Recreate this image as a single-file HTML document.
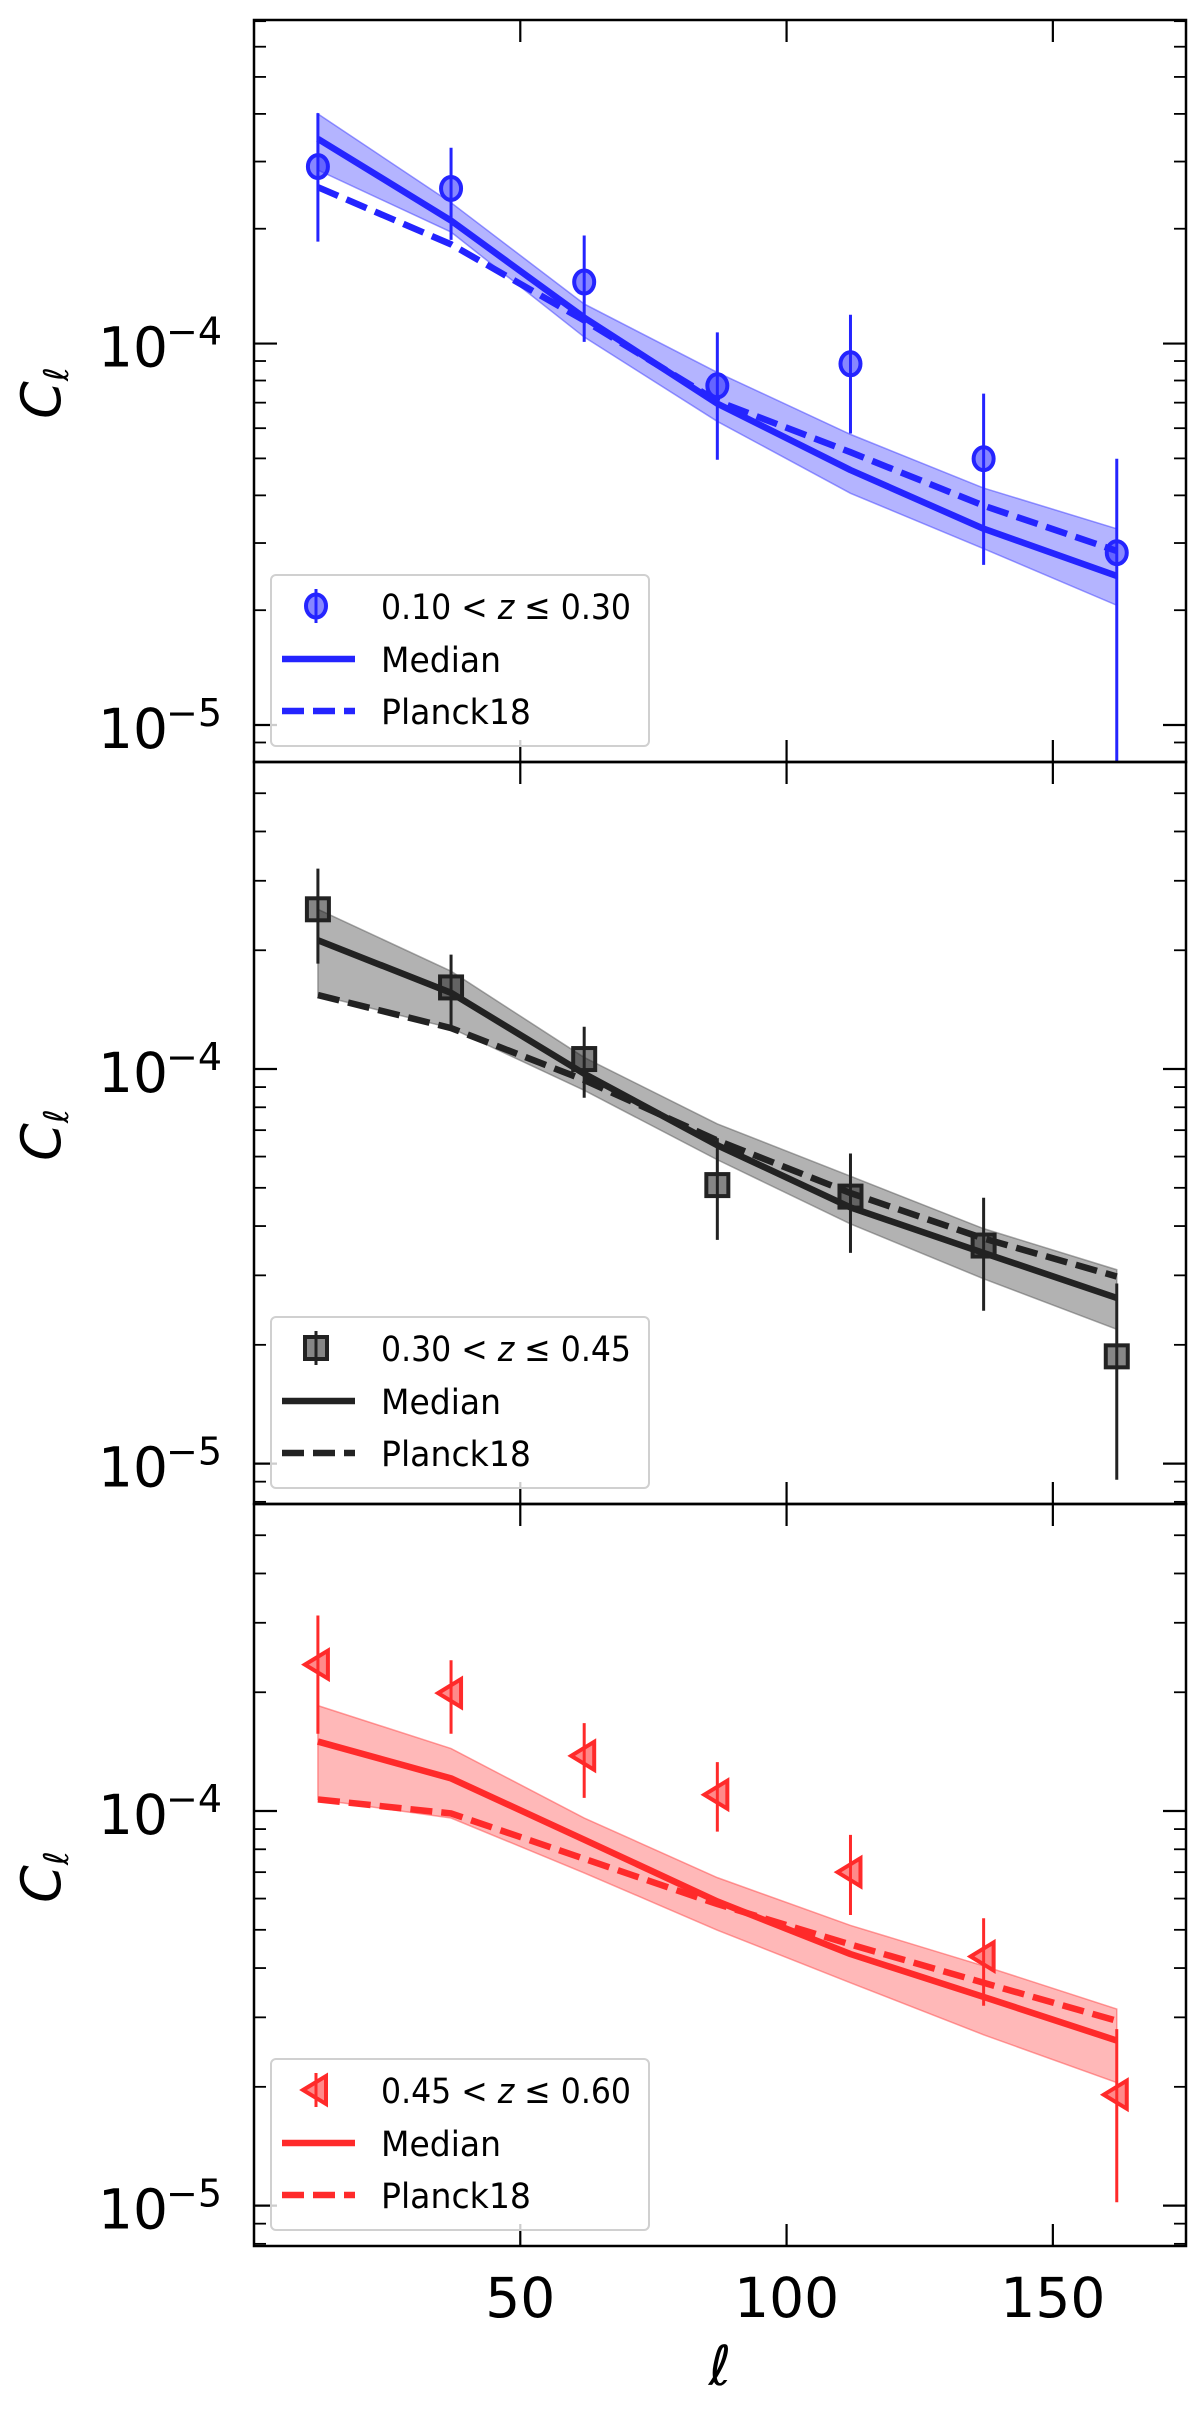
<!DOCTYPE html>
<html><head><meta charset="utf-8"><style>
html,body{margin:0;padding:0;background:#fff;}
svg{display:block;font-family:"DejaVu Sans","Liberation Sans",sans-serif;}
</style></head><body>
<svg id="fig" width="1200" height="2418" viewBox="0 0 1200 2418" xmlns="http://www.w3.org/2000/svg"></svg>
<script>
// ---- data ----
const ells = [12, 37, 62, 87, 112, 137, 162];
const xTicks = [50, 100, 150];
const labels = ["0.10 < z \u2264 0.30", "0.30 < z \u2264 0.45", "0.45 < z \u2264 0.60"];
const p1Data = [2.91e-4, 2.55e-4, 1.45e-4, 7.75e-5, 8.85e-5, 4.99e-5, 2.83e-5];
const p1ErrHi = [4.02e-4, 3.26e-4, 1.92e-4, 1.07e-4, 1.19e-4, 7.39e-5, 4.99e-5];
const p1ErrLo = [1.85e-4, 1.87e-4, 1.01e-4, 4.96e-5, 5.81e-5, 2.63e-5, 4e-6];
const p1Median = [3.44e-4, 2.1e-4, 1.17e-4, 6.96e-5, 4.66e-5, 3.27e-5, 2.46e-5];
const p1Planck = [2.57e-4, 1.82e-4, 1.15e-4, 7.06e-5, 5.19e-5, 3.76e-5, 2.86e-5];
const p1BandHi = [4.0e-4, 2.34e-4, 1.27e-4, 8.4e-5, 5.78e-5, 4.18e-5, 3.27e-5];
const p1BandLo = [2.85e-4, 1.96e-4, 1.04e-4, 6.25e-5, 4.05e-5, 2.9e-5, 2.06e-5];
const p2Data = [2.54e-4, 1.61e-4, 1.06e-4, 5.08e-5, 4.75e-5, 3.57e-5, 1.87e-5];
const p2ErrHi = [3.22e-4, 1.95e-4, 1.28e-4, 6.68e-5, 6.11e-5, 4.72e-5, 2.86e-5];
const p2ErrLo = [1.85e-4, 1.28e-4, 8.46e-5, 3.69e-5, 3.42e-5, 2.44e-5, 9.1e-6];
const p2Median = [2.12e-4, 1.56e-4, 9.73e-5, 6.41e-5, 4.46e-5, 3.42e-5, 2.63e-5];
const p2Planck = [1.54e-4, 1.27e-4, 9.38e-5, 6.59e-5, 4.85e-5, 3.72e-5, 2.98e-5];
const p2BandHi = [2.54e-4, 1.77e-4, 1.07e-4, 7.26e-5, 5.35e-5, 3.94e-5, 3.1e-5];
const p2BandLo = [1.54e-4, 1.27e-4, 8.83e-5, 5.89e-5, 4.05e-5, 2.94e-5, 2.19e-5];
const p3Data = [2.35e-4, 1.99e-4, 1.38e-4, 1.10e-4, 7.0e-5, 4.28e-5, 1.91e-5];
const p3ErrHi = [3.13e-4, 2.41e-4, 1.67e-4, 1.33e-4, 8.7e-5, 5.35e-5, 2.8e-5];
const p3ErrLo = [1.57e-4, 1.57e-4, 1.08e-4, 8.87e-5, 5.45e-5, 3.21e-5, 1.02e-5];
const p3Median = [1.5e-4, 1.21e-4, 8.46e-5, 5.9e-5, 4.34e-5, 3.38e-5, 2.62e-5];
const p3Planck = [1.07e-4, 9.86e-5, 7.57e-5, 5.81e-5, 4.59e-5, 3.67e-5, 2.94e-5];
const p3BandHi = [1.85e-4, 1.44e-4, 9.6e-5, 6.78e-5, 5.13e-5, 4.05e-5, 3.15e-5];
const p3BandLo = [1.07e-4, 9.6e-5, 6.97e-5, 4.99e-5, 3.67e-5, 2.71e-5, 2.05e-5];
const yMajor = [1e-5, 1e-4];

// ---- layout ----
const NS = "http://www.w3.org/2000/svg";
const svg = document.getElementById("fig");
const L = 254, R = 1186, xMin = 0, xMax = 175;
const LW = 6.5, DASH = "22 9";
const panels = [
  {top: 20, bot: 762, ymin: 8.0e-6, ymax: 7.05e-4, color: "#2424ff", band: "#3a3aff", mk: "circle",
   d: p1Data, hi: p1ErrHi, lo: p1ErrLo, med: p1Median, pl: p1Planck, bh: p1BandHi, bl: p1BandLo},
  {top: 762, bot: 1504, ymin: 7.9e-6, ymax: 6.0e-4, color: "#222222", band: "#555555", mk: "square",
   d: p2Data, hi: p2ErrHi, lo: p2ErrLo, med: p2Median, pl: p2Planck, bh: p2BandHi, bl: p2BandLo},
  {top: 1504, bot: 2246, ymin: 7.9e-6, ymax: 6.0e-4, color: "#ff2a2a", band: "#ff4444", mk: "tri",
   d: p3Data, hi: p3ErrHi, lo: p3ErrLo, med: p3Median, pl: p3Planck, bh: p3BandHi, bl: p3BandLo}
];
const names = ["low-z", "mid-z", "high-z"];
function xs(v){ return L + (v - xMin) / (xMax - xMin) * (R - L); }
function mkY(p){ const a = Math.log10(p.ymin), b = Math.log10(p.ymax);
  return v => p.bot - (Math.log10(v) - a) / (b - a) * (p.bot - p.top); }
function el(tag, attrs, parent){ const e = document.createElementNS(NS, tag);
  for (const k in attrs) e.setAttribute(k, attrs[k]); (parent || svg).appendChild(e); return e; }

function marker(g, type, cx, cy, color){
  let m;
  if (type === "circle") m = el("ellipse", {cx: cx, cy: cy, rx: 10, ry: 11.5}, g);
  else if (type === "square") m = el("rect", {x: cx - 11, y: cy - 11, width: 22, height: 22}, g);
  else m = el("polygon", {points: `${cx-13},${cy} ${cx+10},${cy-14} ${cx+10},${cy+14}`}, g);
  m.setAttribute("fill", color); m.setAttribute("fill-opacity", "0.55");
  m.setAttribute("stroke", color); m.setAttribute("stroke-width", "4");
  return m;
}

panels.forEach((p, i) => {
  const ys = mkY(p);
  const g = el("g", {});
  
  
  const cid = "clip" + i;
  const cp = el("clipPath", {id: cid}, g);
  el("rect", {x: L, y: p.top, width: R - L, height: p.bot - p.top}, cp);
  const pg = el("g", {"clip-path": `url(#${cid})`}, g);

  let pts = ells.map((e, k) => `${xs(e)},${ys(p.bh[k])}`);
  pts = pts.concat(ells.slice().reverse().map((e, k) => `${xs(e)},${ys(p.bl[ells.length - 1 - k])}`));
  const band = el("polygon", {points: pts.join(" "), fill: p.band, "fill-opacity": i === 1 ? "0.45" : "0.38", stroke: p.band, "stroke-opacity": "0.5", "stroke-width": "1.5"}, pg);
  
  
  const med = el("polyline", {points: ells.map((e, k) => `${xs(e)},${ys(p.med[k])}`).join(" "), fill: "none", stroke: p.color, "stroke-width": LW, "stroke-linejoin": "round"}, pg);
  
  
  const pl = el("polyline", {points: ells.map((e, k) => `${xs(e)},${ys(p.pl[k])}`).join(" "), fill: "none", stroke: p.color, "stroke-width": LW, "stroke-dasharray": DASH}, pg);
  
  
  ells.forEach((e, k) => {
    const eb = el("line", {x1: xs(e), x2: xs(e), y1: ys(p.hi[k]), y2: ys(p.lo[k]), stroke: p.color, "stroke-width": "3"}, pg);
    
    
    const m = marker(pg, p.mk, xs(e), ys(p.d[k]), p.color);
    
    
  });

  const a = Math.floor(Math.log10(p.ymin)), b = Math.ceil(Math.log10(p.ymax));
  for (let dec = a; dec <= b; dec++) for (let m = 1; m <= 9; m++) {
    const v = m * Math.pow(10, dec);
    if (v < p.ymin || v > p.ymax) continue;
    const yy = ys(v), len = m === 1 ? 23 : 12, w = m === 1 ? 2.2 : 1.8;
    el("line", {x1: L, x2: L + len, y1: yy, y2: yy, stroke: "#000", "stroke-width": w}, g);
    el("line", {x1: R, x2: R - len, y1: yy, y2: yy, stroke: "#000", "stroke-width": w}, g);
  }
  yMajor.forEach(v => {
    const yy = ys(v);
    const t = el("text", {x: 98, y: yy + 23, "font-size": "55", fill: "#000"}, g);
    
    
    t.textContent = "10";
    const s = el("text", {x: 166, y: yy + 1, "font-size": "38", fill: "#000"}, g);
    s.textContent = "\u2212" + Math.abs(Math.log10(v)).toFixed(0);
  });
  xTicks.forEach(v => {
    el("line", {x1: xs(v), x2: xs(v), y1: p.top, y2: p.top + 22, stroke: "#000", "stroke-width": "2.2"}, g);
    el("line", {x1: xs(v), x2: xs(v), y1: p.bot, y2: p.bot - 22, stroke: "#000", "stroke-width": "2.2"}, g);
  });
  el("rect", {x: L, y: p.top, width: R - L, height: p.bot - p.top, fill: "none", stroke: "#000", "stroke-width": "2.5"}, g);

  const yl = el("text", {transform: `translate(60,${p.top + 373}) rotate(-90)`, "font-size": "54", "font-style": "italic", "text-anchor": "middle", fill: "#000"}, g);
  
  
  yl.innerHTML = 'C<tspan font-size="34" dy="8">\u2113</tspan>';

  const lg = el("g", {}, g);
  
  
  const lt = p.top + 555;
  el("rect", {x: 271, y: lt, width: 378, height: 171, rx: 5, fill: "#fff", "fill-opacity": "0.8", stroke: "#d0d0d0", "stroke-width": "2"}, lg);
  const r1 = lt + 31, r2 = lt + 84, r3 = lt + 136;
  el("line", {x1: 316, x2: 316, y1: r1 - 17, y2: r1 + 17, stroke: p.color, "stroke-width": "3"}, lg);
  marker(lg, p.mk, 316, r1, p.color);
  el("line", {x1: 282, x2: 355, y1: r2, y2: r2, stroke: p.color, "stroke-width": LW}, lg);
  el("line", {x1: 282, x2: 355, y1: r3, y2: r3, stroke: p.color, "stroke-width": LW, "stroke-dasharray": DASH}, lg);
  const tx = [labels[i], "Median", "Planck18"];
  [r1, r2, r3].forEach((ry, k) => {
    const t = el("text", {x: 381, y: ry + 13, "font-size": "35", fill: "#000", textLength: k === 0 ? 250 : (k === 1 ? 120 : 150), lengthAdjust: "spacingAndGlyphs"}, lg);
    
    
    if (k === 0) { const parts = labels[i].split(" z "); t.innerHTML = parts[0] + ' <tspan font-style="italic">z</tspan> ' + parts[1]; }
    else t.textContent = tx[k];
  });
});

xTicks.forEach(v => {
  const t = el("text", {x: xs(v), y: 2317, "font-size": "55", "text-anchor": "middle", fill: "#000"});
  
  
  t.textContent = v;
});
const xl = el("text", {x: 720, y: 2385, "font-size": "55", "font-style": "italic", "text-anchor": "middle", fill: "#000"});


xl.textContent = "\u2113";
</script>
</body></html>
